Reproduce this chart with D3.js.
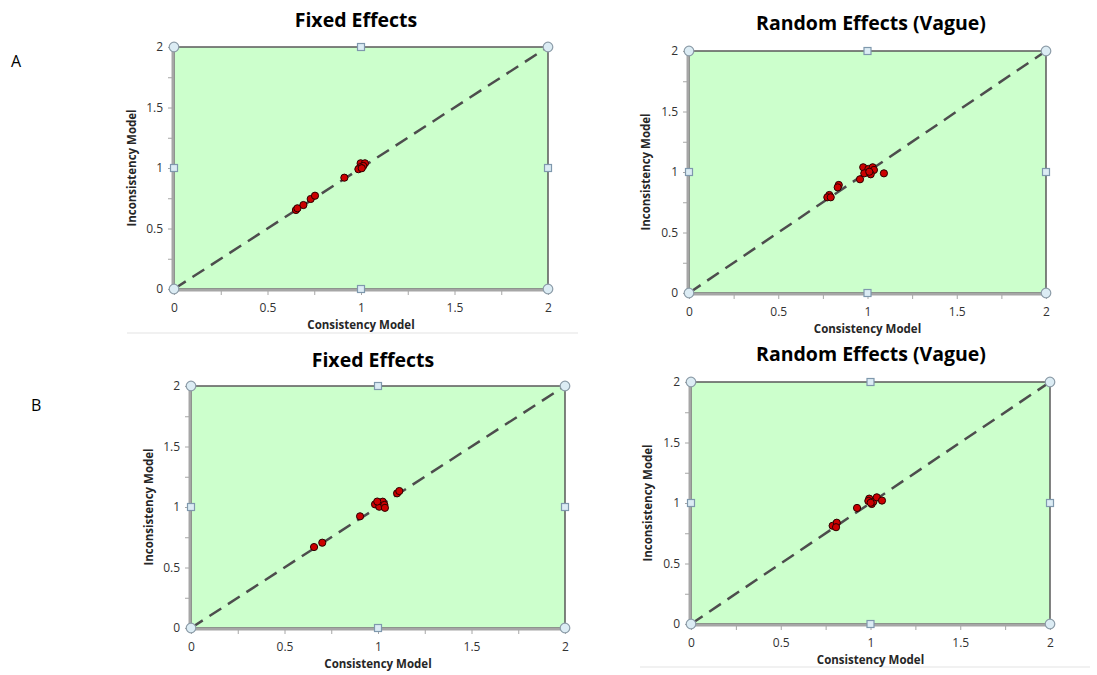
<!DOCTYPE html>
<html><head><meta charset="utf-8">
<script src="https://cdn.jsdelivr.net/npm/d3@7"></script>
<style>body{margin:0;background:#fff}svg{display:block}</style>
</head><body>
<svg id="c" width="1097" height="675"></svg>
<script>
// ---- data ----
const titles = ["Fixed Effects", "Random Effects (Vague)", "Fixed Effects", "Random Effects (Vague)"];
const xLabel = "Consistency Model";
const yLabel = "Inconsistency Model";
const tickValues = [0, 0.5, 1, 1.5, 2];
const tickLabels = ["0", "0.5", "1", "1.5", "2"];
const rowLabels = ["A", "B"];

const aFixedX = [0.652, 0.66, 0.692, 0.731, 0.754, 0.911, 0.998, 1.021, 1.012, 0.995, 0.986, 1.004];
const aFixedY = [0.653, 0.667, 0.694, 0.744, 0.771, 0.92, 1.039, 1.039, 1.017, 1.006, 0.99, 0.998];
const aRandX = [0.786, 0.775, 0.794, 0.839, 0.833, 0.958, 0.976, 1.005, 1.029, 1.036, 0.982, 1.018, 1.010, 1.092];
const aRandY = [0.81, 0.791, 0.791, 0.893, 0.873, 0.94, 1.039, 1.025, 1.039, 1.017, 0.989, 0.981, 1.002, 0.989];
const bFixedX = [0.658, 0.702, 0.904, 0.984, 1.007, 1.025, 1.034, 1.037, 0.996, 1.102, 1.114];
const bFixedY = [0.669, 0.705, 0.923, 1.022, 1.002, 1.044, 1.017, 0.993, 1.045, 1.113, 1.132];
const bRandX = [0.789, 0.812, 0.808, 0.925, 0.993, 0.988, 1.007, 1.016, 1.035, 1.001, 1.064];
const bRandY = [0.812, 0.837, 0.800, 0.959, 1.036, 1.017, 0.992, 1.011, 1.047, 1.002, 1.02];

const seriesX = [aFixedX, aRandX, bFixedX, bRandX];
const seriesY = [aFixedY, aRandY, bFixedY, bRandY];

// ---- layout ----
const boxes = [
  {x0:174, x1:548, y0:47,  y1:289, tx:356, ty:27,  ylx:136, xly:329},
  {x0:689, x1:1046,y0:51,  y1:293, tx:871, ty:30,  ylx:650, xly:333},
  {x0:191, x1:565, y0:386, y1:628, tx:373, ty:367, ylx:153, xly:668},
  {x0:691, x1:1050,y0:382, y1:624, tx:871, ty:361, ylx:652, xly:664}
];

const svg = d3.select("#c");
const font = "'Open Sans', 'Liberation Sans', sans-serif";

// separators
[[127,578,333],[640,1090,667]].forEach(s=>{
  svg.append("line").attr("x1",s[0]).attr("x2",s[1]).attr("y1",s[2]).attr("y2",s[2])
    .attr("stroke","#e3e3e3").attr("stroke-width",1);
});

svg.append("text").attr("x",11).attr("y",67).text(rowLabels[0])
  .attr("font-family",font).attr("font-size",16).attr("fill","#000");
svg.append("text").attr("x",31).attr("y",411).text(rowLabels[1])
  .attr("font-family",font).attr("font-size",16).attr("fill","#000");

boxes.forEach((b,i)=>{
  const g = svg.append("g");
  const x = d3.scaleLinear().domain([0,2]).range([b.x0,b.x1]);
  const y = d3.scaleLinear().domain([0,2]).range([b.y1,b.y0]);

  g.append("rect").attr("x",b.x0).attr("y",b.y0).attr("width",b.x1-b.x0).attr("height",b.y1-b.y0)
    .attr("fill","#ccffcc").attr("stroke","#595959").attr("stroke-width",1.5);
  g.append("line").attr("x1",b.x0-1).attr("x2",b.x0-1).attr("y1",b.y0).attr("y2",b.y1+1)
    .attr("stroke","#a6a6a6").attr("stroke-width",3);
  g.append("line").attr("x1",b.x0-1).attr("x2",b.x1).attr("y1",b.y1+1).attr("y2",b.y1+1)
    .attr("stroke","#a6a6a6").attr("stroke-width",3);

  // x axis
  const xa = g.append("g").attr("transform",`translate(0,${b.y1+2})`)
    .call(d3.axisBottom(x).tickValues(d3.range(0,2.01,0.25)).tickSize(4).tickFormat(""));
  xa.select(".domain").remove();
  xa.selectAll("line").attr("stroke","#a6a6a6");
  const xt = g.append("g").attr("transform",`translate(0,${b.y1})`)
    .call(d3.axisBottom(x).tickValues(tickValues).tickSize(0).tickPadding(14)
      .tickFormat((d,k)=>tickLabels[k]));
  xt.select(".domain").remove();
  xt.selectAll("text").attr("font-family",font).attr("font-size",12).attr("fill","#333");

  // y axis
  const ya = g.append("g").attr("transform",`translate(${b.x0-2},0)`)
    .call(d3.axisLeft(y).tickValues(d3.range(0,2.01,0.25)).tickSize(4).tickFormat(""));
  ya.select(".domain").remove();
  ya.selectAll("line").attr("stroke","#a6a6a6");
  const yt = g.append("g").attr("transform",`translate(${b.x0},0)`)
    .call(d3.axisLeft(y).tickValues(tickValues).tickSize(0).tickPadding(11)
      .tickFormat((d,k)=>tickLabels[k]));
  yt.select(".domain").remove();
  yt.selectAll("text").attr("font-family",font).attr("font-size",12).attr("fill","#333");

  // diagonal
  g.append("line").attr("x1",x(0)).attr("y1",y(0)).attr("x2",x(2)).attr("y2",y(2))
    .attr("stroke","#4d4d4d").attr("stroke-width",2.5).attr("stroke-dasharray","14,8");

  // points
  const pts = seriesX[i].map((v,k)=>[v, seriesY[i][k]]);
  g.selectAll("circle.pt").data(pts).join("circle").attr("class","pt")
    .attr("cx",d=>x(d[0])).attr("cy",d=>y(d[1])).attr("r",3.6)
    .attr("fill","#cc0000").attr("stroke","#2a0000").attr("stroke-width",1);

  // selection handles
  const corners = [[0,0],[2,0],[0,2],[2,2]];
  const mids = [[1,0],[1,2],[0,1],[2,1]];
  g.selectAll("circle.h").data(corners).join("circle").attr("class","h")
    .attr("cx",d=>x(d[0])).attr("cy",d=>y(d[1])).attr("r",4.8)
    .attr("fill","#dcecf4").attr("stroke","#8c9ca8").attr("stroke-width",1.2);
  g.selectAll("rect.h").data(mids).join("rect").attr("class","h")
    .attr("x",d=>x(d[0])-3.5).attr("y",d=>y(d[1])-3.5).attr("width",7).attr("height",7)
    .attr("fill","#dcecf4").attr("stroke","#7f98ad").attr("stroke-width",1.2);

  // titles & labels
  g.append("text").attr("x",b.tx).attr("y",b.ty).attr("text-anchor","middle").text(titles[i])
    .attr("font-family",font).attr("font-weight","bold").attr("font-size",19.5).attr("fill","#000");
  g.append("text").attr("x",(b.x0+b.x1)/2).attr("y",b.xly).attr("text-anchor","middle").text(xLabel)
    .attr("font-family",font).attr("font-weight","bold").attr("font-size",11.5).attr("fill","#262626");
  g.append("text").attr("transform",`translate(${b.ylx},${(b.y0+b.y1)/2}) rotate(-90)`)
    .attr("text-anchor","middle").text(yLabel)
    .attr("font-family",font).attr("font-weight","bold").attr("font-size",11.5).attr("fill","#262626");
});
</script>
</body></html>
